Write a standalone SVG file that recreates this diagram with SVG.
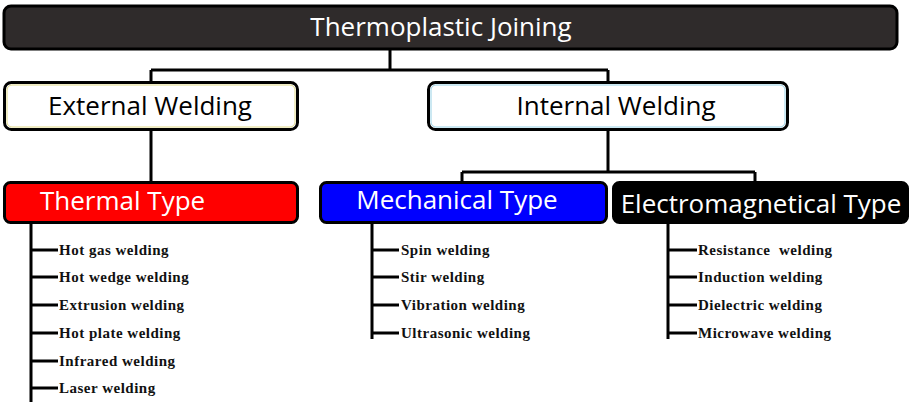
<svg xmlns="http://www.w3.org/2000/svg" width="919" height="402" viewBox="0 0 919 402">
<style>
.box{stroke:#000;stroke-width:3}
.hd{font-family:"Open Sans","Noto Sans",sans-serif;font-size:26px}
.item{font-family:"Liberation Serif","Times New Roman",serif;font-weight:bold;font-size:15px;fill:#111;letter-spacing:0.5px}
.ln{stroke:#000;stroke-width:3;fill:none}
</style>
<rect width="919" height="402" fill="#fff"/>
<g id="connectors">
<path class="ln" d="M390 50V70M151 70H608M151 70V82M608 70V82"/>
<path class="ln" d="M151 130V182M608 130V172M462 172H755M462 172V182M755 172V182"/>
<path class="ln" d="M31 223V402M31 250H58M31 277H58M31 305H58M31 333H58M31 361H58M31 388H58"/>
<path class="ln" d="M372 223V339M372 250H399M372 277H399M372 305H399M372 333H399"/>
<path class="ln" d="M668 223V339M668 250H697M668 277H697M668 305H697M668 333H697"/>
</g>
<g id="root">
<rect class="box" x="4" y="6" width="893" height="43" rx="7" fill="#2f2b2b"/>
<text class="hd" x="441" y="36" text-anchor="middle" fill="#fff" font-size="26.3">Thermoplastic Joining</text>
</g>
<g id="external">
<rect class="box" x="4.5" y="82.5" width="293" height="47" rx="7" fill="#fff"/>
<rect x="7" y="85" width="288" height="42" rx="5" fill="none" stroke="#d8cf6a" stroke-width="0.8"/>
<text class="hd" x="150" y="115" text-anchor="middle" fill="#000">External Welding</text>
</g>
<g id="internal">
<rect class="box" x="428.5" y="82.5" width="359" height="47" rx="7" fill="#fff"/>
<rect x="431" y="85" width="354" height="42" rx="5" fill="none" stroke="#7fc6e0" stroke-width="0.8"/>
<text class="hd" x="616" y="115" text-anchor="middle" fill="#000">Internal Welding</text>
</g>
<g id="thermal">
<rect class="box" x="4.5" y="182.5" width="293" height="40" rx="6" fill="#ff0000"/>
<text class="hd" x="40" y="210" fill="#fff" font-size="27">Thermal Type</text>
<text class="item" x="59" y="255">Hot gas welding</text>
<text class="item" x="59" y="282">Hot wedge welding</text>
<text class="item" x="59" y="310">Extrusion welding</text>
<text class="item" x="59" y="338">Hot plate welding</text>
<text class="item" x="59" y="366">Infrared welding</text>
<text class="item" x="59" y="393">Laser welding</text>
</g>
<g id="mechanical">
<rect class="box" x="320.5" y="182.5" width="286" height="40" rx="6" fill="#0000ff"/>
<text class="hd" x="457" y="209" text-anchor="middle" fill="#fff" font-size="27">Mechanical Type</text>
<text class="item" x="401" y="255">Spin welding</text>
<text class="item" x="401" y="282">Stir welding</text>
<text class="item" x="401" y="310">Vibration welding</text>
<text class="item" x="401" y="338">Ultrasonic welding</text>
</g>
<g id="electromagnetical">
<rect class="box" x="613.5" y="182.5" width="294" height="40" rx="6" fill="#000"/>
<text class="hd" x="761" y="213" text-anchor="middle" fill="#fff" font-size="27.4">Electromagnetical Type</text>
<text class="item" x="698" y="255" xml:space="preserve" style="white-space:pre">Resistance  welding</text>
<text class="item" x="698" y="282">Induction welding</text>
<text class="item" x="698" y="310">Dielectric welding</text>
<text class="item" x="698" y="338">Microwave welding</text>
</g>
</svg>
